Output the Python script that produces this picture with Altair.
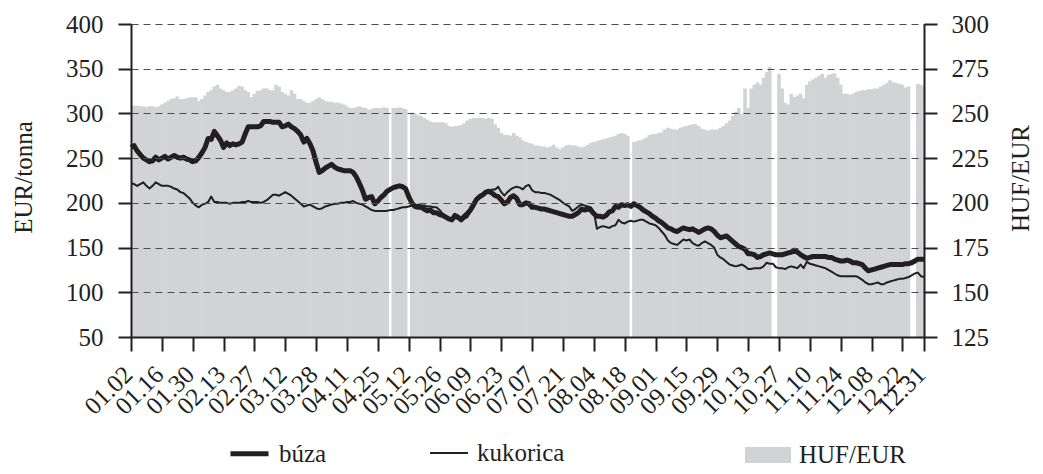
import altair as alt
import pandas as pd

# ---- categories: trading days of 2008 (exchange closed on these weekdays)
closed = ["2008-03-21", "2008-03-24", "2008-05-01"]
days = [d for d in pd.bdate_range("2008-01-02", "2008-12-31") if d.strftime("%Y-%m-%d") not in closed]
dates = [d.strftime("%m.%d") for d in days]
label_dates = dates[::10] + [dates[-1]]

series_names = ["búza", "kukorica"]

# ---- EUR/tonna, wheat (búza)
buza = [
    262, 264, 258, 254, 250, 248, 246, 247, 251, 248,
    250, 252, 249, 251, 253, 251, 250, 251, 249, 248,
    246, 247, 251, 256, 262, 272, 271, 280, 275, 270,
    262, 267, 264, 266, 265, 266, 268, 277, 285, 285,
    285, 285, 286, 291, 291, 291, 290, 290, 290, 285,
    286, 288, 285, 283, 280, 276, 268, 272, 266, 258,
    245, 234, 236, 239, 241, 243, 240, 238, 237, 236,
    236, 236, 234, 229, 222, 214, 204, 206, 207, 199,
    202, 206, 209, 213, 215, 217, 218, 219, 218, 216,
    207, 200, 196, 195, 195, 193, 191, 192, 189, 189,
    187, 186, 184, 182, 181, 186, 184, 181, 185, 188,
    192, 198, 204, 207, 209, 212, 213, 211, 208, 207,
    203, 199, 201, 206, 208, 205, 198, 198, 200, 199,
    195, 195, 194, 193, 193, 192, 191, 190, 189, 188,
    187, 186, 185, 185, 187, 189, 193, 192, 193, 192,
    188, 185, 185, 184, 186, 190, 191, 196, 195, 198,
    197, 198, 196, 199, 197, 195, 192, 190, 188, 185,
    183, 180, 178, 175, 172, 171, 169, 168, 170, 172,
    171, 170, 171, 169, 167, 169, 171, 172, 171, 168,
    164, 161, 162, 163, 160, 157, 154, 151, 150, 148,
    143, 143, 142, 139, 140, 142, 143, 144, 143, 142,
    142, 142, 143, 144, 145, 147, 145, 142, 140, 138,
    139, 140, 140, 140, 140, 140, 139, 139, 137, 136,
    135, 135, 136, 135, 133, 133, 132, 131, 127, 124,
    125, 126, 127, 128, 129, 130, 131, 131, 131, 131,
    131, 132, 132, 133, 135, 137, 137, 137,
]

# ---- EUR/tonna, maize (kukorica)
kukorica = [
    222, 221, 219, 221, 223, 219, 216, 219, 223, 221,
    219, 219, 219, 218, 216, 215, 212, 211, 208, 205,
    200, 197, 195, 198, 199, 201, 207, 201, 201, 200,
    200, 200, 199, 200, 200, 200, 201, 201, 202, 201,
    201, 201, 200, 201, 203, 206, 209, 209, 208, 210,
    212, 210, 208, 205, 202, 199, 196, 197, 198, 196,
    194, 193, 194, 196, 197, 198, 199, 199, 200, 200,
    201, 201, 202, 200, 199, 198, 196, 194, 192, 191,
    191, 191, 191, 191, 192, 192, 193, 194, 195, 195,
    196, 197, 197, 198, 197, 197, 196, 196, 195, 195,
    192, 188, 185, 181, 183, 183, 182, 183, 182, 184,
    190, 195, 204, 209, 210, 211, 212, 215, 215, 218,
    212, 208, 212, 215, 217, 218, 217, 215, 219, 220,
    214, 212, 212, 211, 211, 210, 209, 207, 205, 203,
    200, 198, 196, 191, 193, 196, 198, 197, 196, 195,
    190, 171, 173, 174, 173, 172, 174, 175, 181, 178,
    177, 179, 180, 179, 180, 181, 181, 179, 177, 176,
    175, 172, 168, 164, 158, 155, 154, 153, 156, 159,
    158, 159, 155, 153, 152, 155, 157, 155, 153, 150,
    142, 139, 137, 134, 131, 130, 129, 130, 131, 129,
    126, 126, 127, 127, 127, 129, 133, 132, 132, 128,
    127, 127, 126, 128, 129, 128, 127, 131, 127, 134,
    132, 131, 130, 129, 128, 127, 125, 123, 121, 119,
    118, 118, 118, 118, 118, 118, 116, 114, 111, 109,
    109, 110, 111, 109, 109, 111, 112, 113, 114, 115,
    115, 116, 117, 119, 121, 122, 118, 117,
]

# ---- HUF/EUR exchange rate (None = no fixing that day)
huf = [
    254, 254.5, 254.5, 254, 254, 253.5, 254, 254, 253.5, 254,
    255, 256, 257, 258, 258.5, 259.5, 258, 258, 258.5, 259,
    259, 259, 257, 258, 260, 262, 263, 265, 266, 264,
    263, 262, 262, 263, 264, 265.5, 265, 263, 262, 259,
    261, 262.5, 263, 264, 264, 263, 263, 266, 265, 262,
    261, 260, 263, 261, 258, 258, 257, 256, 256, 257,
    258, 259, 258, 257, 256.5, 256.5, 256, 256, 255.5, 255,
    254, 253, 253, 253.5, 254, 253.5, 253, 252, 252.5, 253,
    253, 253, 253.5, 253, None, 253, 253, 253.5, 253, 252.5,
    None, 250.5, 250, 249, 248.5, 247.5, 246.5, 245.5, 245, 245,
    245, 245, 244.5, 243, 242.5, 243, 243, 243.5, 244.5, 246,
    247, 247.5, 247.5, 247.5, 247.5, 247, 247.5, 247, 244, 242,
    239, 238, 238, 237.5, 239, 237.5, 236.5, 235, 234, 233.5,
    233, 232, 232, 231.5, 231.5, 231, 231.5, 232.5, 231, 230,
    231, 232, 232.5, 232, 232, 231.5, 231, 231.5, 232.5, 233.5,
    234, 234.5, 235, 235.5, 236, 236.5, 237, 237.5, 238.5, 239,
    238.5, 237.5, None, 234, 234.5, 235, 235.5, 236.5, 238, 238.5,
    238.5, 239, 239.5, 241, 242, 241.5, 241, 241, 242, 242.5,
    243, 243.5, 244, 244, 243, 241.5, 241, 240.5, 241, 241,
    241, 242, 243, 244.5, 246, 248.5, 251, 253, 249.5, 264,
    253, 264, 266, 267.5, 266, 270, 273, 276, None, None,
    272, 264, 256, 255, 261, 259, 260, 261, 258.5, 266,
    268, 269, 270, 271, 272, 270, 271.5, 272, 272.5, 270,
    266, 261, 261, 260.5, 261, 262, 262.5, 263, 263, 263.5,
    263.5, 264, 264, 265, 266, 267, 268.5, 267.5, 267, 266.5,
    266, 264.5, 265, None, None, 266.5, 266, 265,
]

left_ticks = [50, 100, 150, 200, 250, 300, 350, 400]
right_ticks = [125, 150, 175, 200, 225, 250, 275, 300]

lines_df = pd.DataFrame({
    "date": dates * 2,
    "series": [series_names[0]] * len(buza) + [series_names[1]] * len(kukorica),
    "value": buza + kukorica,
})
bars_df = pd.DataFrame({"date": dates, "huf": huf, "key": "HUF/EUR"})

FONT = "Liberation Serif"
INK = "#231f20"
FS = 25

x_enc = alt.X(
    "date:N", sort=dates, title=None,
    scale=alt.Scale(type="point", padding=0, domain=dates),
    axis=alt.Axis(values=label_dates, labelAngle=315, labelAlign="right",
                  labelBaseline="middle", labelPadding=19, labelOffset=-3,
                  labelFont=FONT,
                  labelFontSize=FS, labelColor=INK, labelOverlap=False,
                  tickSize=14, tickWidth=2, tickColor=INK,
                  domainColor=INK, domainWidth=2, grid=False, zindex=1),
)

bars = alt.Chart(bars_df).mark_bar(size=3.6, clip=True).encode(
    x=x_enc,
    y=alt.Y("huf:Q",
            scale=alt.Scale(domain=[125, 300], nice=False, zero=False),
            axis=alt.Axis(orient="right", values=right_ticks, grid=False,
                          labelFont=FONT, labelFontSize=FS, labelColor=INK,
                          labelPadding=14, tickSize=13, tickWidth=2, tickColor=INK,
                          domainColor=INK, domainWidth=2, zindex=1,
                          title="HUF/EUR", titleFont=FONT, titleFontSize=FS,
                          titleFontWeight="normal", titleColor=INK,
                          titleAngle=270, titleX=96, titleY=154,
                          titleAlign="center", titleBaseline="middle")),
    fill=alt.Fill("key:N", scale=alt.Scale(domain=["HUF/EUR"], range=["#d1d3d4"]),
                  legend=alt.Legend(orient="none", legendX=614, legendY=408,
                                    direction="horizontal", title=None,
                                    symbolType="M-1,-0.35L1,-0.35L1,0.35L-1,0.35Z",
                                    symbolSize=2116, symbolStrokeWidth=0,
                                    labelFont=FONT, labelFontSize=FS, labelColor=INK,
                                    labelOffset=8)),
)

lines = alt.Chart(lines_df).mark_line(color=INK, strokeJoin="round").encode(
    x=x_enc,
    y=alt.Y("value:Q",
            scale=alt.Scale(domain=[50, 400], nice=False, zero=False),
            axis=alt.Axis(orient="left", values=left_ticks, grid=True,
                          gridDash=[7, 5], gridColor="#4d4d4d", gridWidth=1.2,
                          labelFont=FONT, labelFontSize=FS, labelColor=INK,
                          labelPadding=15, tickSize=13, tickWidth=2, tickColor=INK,
                          domainColor=INK, domainWidth=2, zindex=1,
                          title="EUR/tonna", titleFont=FONT, titleFontSize=FS,
                          titleFontWeight="normal", titleColor=INK,
                          titleAngle=270, titleX=-108, titleY=153,
                          titleAlign="center", titleBaseline="middle")),
    strokeWidth=alt.StrokeWidth(
        "series:N",
        scale=alt.Scale(domain=series_names, range=[5, 2]),
        legend=alt.Legend(orient="none", legendX=97, legendY=408,
                          direction="horizontal", title=None,
                          symbolType="stroke", symbolSize=1444,
                          symbolStrokeColor=INK,
                          labelFont=FONT, labelFontSize=FS, labelColor=INK,
                          labelOffset=8, columnPadding=99)),
)

chart = alt.layer(bars, lines).resolve_scale(y="independent").properties(
    width=793, height=313,
    padding={"left": 123, "top": 16, "right": 110, "bottom": 135},
    autosize=alt.AutoSizeParams(type="none"),
).configure_view(strokeWidth=0)

chart.save("out.html", embed_options={"renderer": "svg", "actions": False})
